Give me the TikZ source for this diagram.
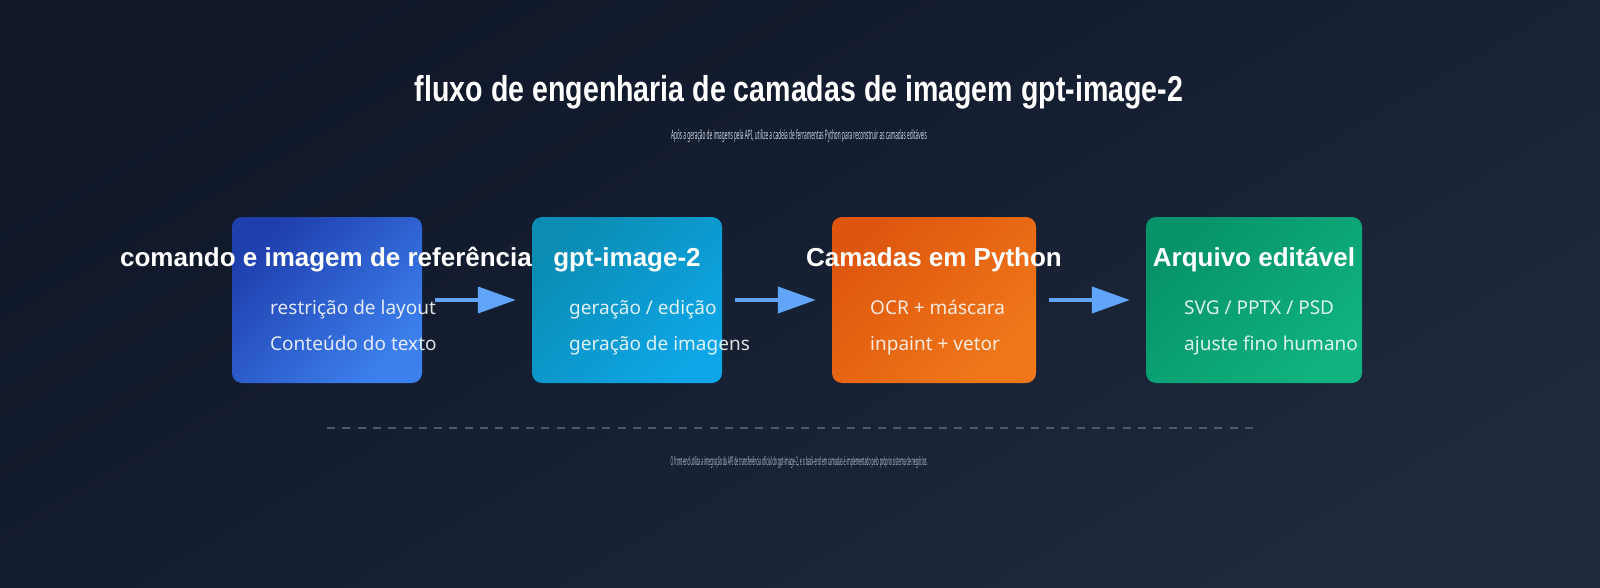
\documentclass[tikz,border=0pt]{standalone}
\usepackage{fontspec}
\setmainfont{Noto Sans}
\newfontfamily\headfont{Liberation Sans}[BoldFont={Liberation Sans Bold}]
\usepackage{graphicx}
\usetikzlibrary{arrows.meta}
\definecolor{bgA}{HTML}{0F1729}
\definecolor{bgB}{HTML}{1E293B}
\definecolor{bA}{HTML}{1F3FAD}
\definecolor{bB}{HTML}{3C80EE}
\definecolor{cA}{HTML}{0A8CB3}
\definecolor{cB}{HTML}{0EA6E6}
\definecolor{oA}{HTML}{DE560E}
\definecolor{oB}{HTML}{F0781A}
\definecolor{gA}{HTML}{06936A}
\definecolor{gB}{HTML}{10B27F}
\definecolor{arrowc}{HTML}{60A5FA}
\definecolor{dashc}{HTML}{4A5A6E}
\definecolor{subc}{HTML}{CBD5E1}
\begin{document}
\begin{tikzpicture}[x=1pt,y=-1pt,
  card/.style={rounded corners=10pt, minimum width=190pt, minimum height=166pt, inner sep=0pt, shading angle=45},
  head/.style={anchor=base, text=white, font=\headfont\fontsize{26}{29}\selectfont\bfseries, inner sep=0pt},
  body/.style={anchor=base west, text=white, text opacity=0.86, font=\fontsize{19}{22}\selectfont, inner sep=0pt},
  arr/.style={arrowc, line width=4pt, -{Triangle[length=38pt,width=26pt]}, shorten <=13pt, shorten >=16pt},
  dashline/.style={dashc, line width=2pt, dash pattern=on 8pt off 7.3pt},
  note/.style={anchor=base, text=subc, inner sep=0pt}
]
\useasboundingbox (0,0) rectangle (1600,588);
\shade[top color=bgA, bottom color=bgB, shading angle=30] (0,0) rectangle (1600,588);

\node[note, text=white, font=\headfont\fontsize{36}{40}\selectfont\bfseries] (title) at (799,102)
  {\resizebox{768pt}{\height}{fluxo de engenharia de camadas de imagem gpt-image-2}};
\node[note, font=\fontsize{13}{15}\selectfont] (sub) at (799,140)
  {\resizebox{256pt}{\height}{Após a geração de imagens pela API, utilize a cadeia de ferramentas Python para reconstruir as camadas editáveis}};

\node[card, top color=bA, bottom color=bB, shading angle=45] (b1) at (327,300) {};
\node[card, top color=cA, bottom color=cB, shading angle=45] (b2) at (627,300) {};
\node[card, top color=oA, bottom color=oB, shading angle=45, minimum width=204pt] (b3) at (934,300) {};
\node[card, top color=gA, bottom color=gB, shading angle=45, minimum width=216pt] (b4) at (1254,300) {};

\node[head] (h1) at (326,266) {comando e imagem de referência};
\node[head] (h2) at (627,266) {gpt-image-2};
\node[head] (h3) at (934,266) {Camadas em Python};
\node[head] (h4) at (1254,266) {Arquivo editável};

\node[body] (t11) at (270,314) {restrição de layout};
\node[body] (t12) at (270,350) {Conteúdo do texto};
\node[body] (t21) at (569,314) {geração / edição};
\node[body] (t22) at (569,350) {geração de imagens};
\node[body] (t31) at (870,314) {OCR + máscara};
\node[body] (t32) at (870,350) {inpaint + vetor};
\node[body] (t41) at (1184,314) {SVG / PPTX / PSD};
\node[body] (t42) at (1184,350) {ajuste fino humano};

\draw[arr] (b1.east) -- (b2.west);
\draw[arr] (b2.east) -- (b3.west);
\draw[arr] (b3.east) -- (b4.west);

\coordinate (d1) at (327,428);
\coordinate (d2) at (1253,428);
\draw[dashline] (d1) -- (d2);

\node[note, text=subc!85!bgB, font=\fontsize{12}{14}\selectfont] (foot) at (799,465)
  {\resizebox{257pt}{\height}{O front-end utiliza a integração da API de transferência oficial do gpt-image-2, e o back-end em camadas é implementado pelo próprio sistema de negócios.}};
\end{tikzpicture}
\end{document}
